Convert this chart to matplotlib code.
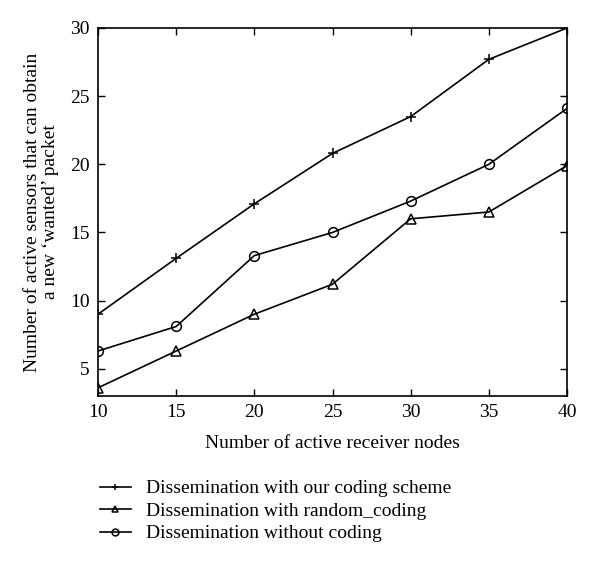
import matplotlib
matplotlib.use("Agg")
import matplotlib.pyplot as plt

x = [10, 15, 20, 25, 30, 35, 40]
our_coding = [9.0, 13.1, 17.1, 20.8, 23.5, 27.7, 30.0]
random_coding = [3.6, 6.3, 9.0, 11.2, 16.0, 16.5, 19.9]
without_coding = [6.3, 8.1, 13.3, 15.0, 17.3, 20.0, 24.1]
labels = ["Dissemination with our coding scheme",
          "Dissemination with random_coding",
          "Dissemination without coding"]

plt.rcParams['font.family'] = ['Liberation Serif', 'DejaVu Serif']
plt.rcParams['font.size'] = 14

fig = plt.figure(figsize=(6.0, 5.66), dpi=100)
ax = fig.add_axes([98/600, 1-396/566, (567-98)/600, (396-28)/566])

kw = dict(color='black', lw=1.2, markersize=7, markerfacecolor='none', markeredgewidth=1.1)
l1, = ax.plot(x, our_coding, marker='+', label=labels[0], **kw)
l2, = ax.plot(x, random_coding, marker='^', label=labels[1], **kw)
l3, = ax.plot(x, without_coding, marker='o', label=labels[2], **kw)

ax.set_xlim(10, 40)
ax.set_ylim(3, 30)
ax.set_xticks([10, 15, 20, 25, 30, 35, 40])
ax.set_yticks([5, 10, 15, 20, 25, 30])
ax.tick_params(direction='in', top=True, right=True, length=5, width=1, pad=6)
for s in ax.spines.values():
    s.set_linewidth(1.2)

ax.set_xlabel("Number of active receiver nodes", labelpad=10)
ax.set_ylabel("Number of active sensors that can obtain\na new \u2018wanted\u2019 packet", labelpad=8, linespacing=1.1)

fig.legend(handles=[l1, l2, l3], loc='upper left', bbox_to_anchor=(92/600, 1-472/566),
           frameon=False, handlelength=1.6, labelspacing=0.25, borderaxespad=0,
           handletextpad=0.8, markerscale=0.7)

fig.savefig("out.png", dpi=100)
